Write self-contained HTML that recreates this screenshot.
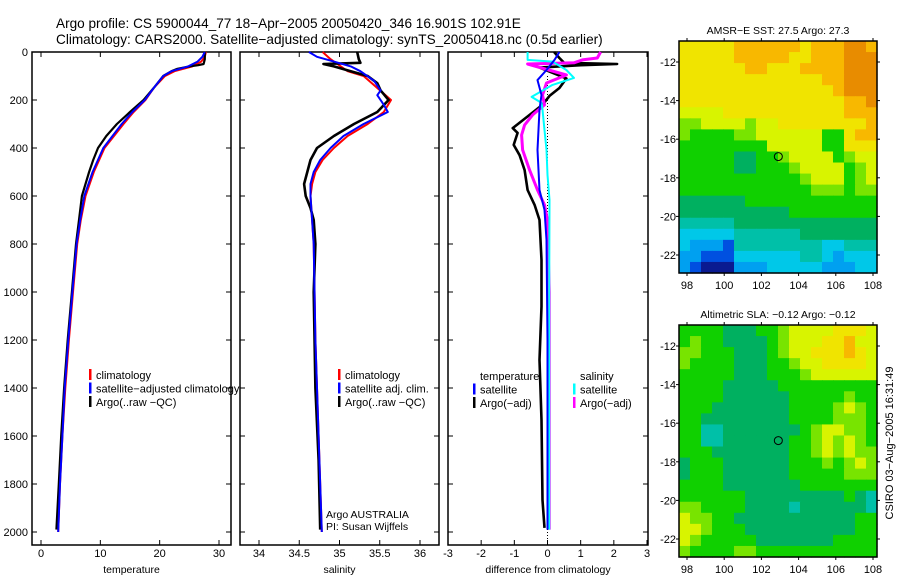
<!DOCTYPE html>
<html><head><meta charset="utf-8"><style>
body{margin:0;background:#fff;}
svg{display:block;font-family:"Liberation Sans",sans-serif;}
</style></head><body>
<svg id="chart" width="900" height="580" viewBox="0 0 900 580" xmlns="http://www.w3.org/2000/svg">
<rect width="900" height="580" fill="#fff"/>
<text x="56" y="28" font-size="13.6">Argo profile: CS 5900044_77 18−Apr−2005 20050420_346 16.901S 102.91E</text>
<text x="56" y="44" font-size="13.6">Climatology: CARS2000. Satellite−adjusted climatology: synTS_20050418.nc (0.5d earlier)</text>
<g id="g"></g>
</svg>
<script>
// ---------- data ----------
const tempDepthClim = [0,20,40,60,80,100,150,200,250,300,400,500,600,700,800,1000,1200,1400,1600,1800,2000];
const tempClim = [27.8,27.6,27.0,25.5,22.5,20.9,19.0,17.6,15.6,13.9,10.7,8.9,7.5,6.7,6.1,5.4,4.7,4.1,3.6,3.2,2.9];
const tempSat = [27.6,27.2,26.4,24.8,22.0,20.6,19.0,17.5,15.4,13.6,10.5,8.7,7.3,6.6,6.0,5.3,4.6,4.0,3.6,3.2,2.9];
const argoDepth = [0,10,20,30,40,50,55,60,70,80,100,150,200,250,300,350,400,450,500,600,700,800,1000,1200,1400,1600,1800,1990];
const tempArgo = [27.6,27.6,27.6,27.6,27.5,27.4,26.5,25,23,22,20.6,19.0,17.3,15.0,12.8,11.0,9.6,8.8,8.1,6.9,6.4,5.9,5.2,4.5,3.9,3.4,3.0,2.6];

const salDepthClim = [0,30,80,100,150,200,250,300,350,400,450,500,550,600,700,800,1200,1600,2000];
const salClim = [34.79,34.89,35.1,35.3,35.47,35.64,35.55,35.35,35.1,34.93,34.79,34.7,34.66,34.64,34.66,34.68,34.70,34.74,34.78];
const salSatDepth = [0,20,40,60,80,120,160,180,220,250,300,350,400,450,500,550,600,700,800,1200,1600,2000];
const salSat = [34.62,34.72,34.93,35.14,35.26,35.43,35.51,35.47,35.55,35.6,35.3,35.05,34.89,34.76,34.68,34.64,34.64,34.66,34.68,34.70,34.74,34.78];
const salArgoDepth = [0,30,45,50,60,80,100,130,160,200,250,300,350,400,450,500,550,600,650,700,800,1000,1400,1700,1990];
const salArgo = [35.22,35.24,35.26,34.8,34.93,35.14,35.35,35.47,35.51,35.61,35.47,35.18,34.93,34.72,34.64,34.6,34.56,34.58,34.64,34.68,34.7,34.68,34.7,34.74,34.76];

const dTempArgoDepth = [0,25,45,50,55,65,110,150,183,220,262,317,337,387,430,492,575,637,700,867,1060,1283,1533,1867,1983];
const dTempArgo = [0.2,0.36,0.5,2.1,1.0,-0.24,0.57,0.36,0.06,-0.15,-0.54,-1.05,-0.9,-1.02,-0.84,-0.69,-0.6,-0.39,-0.24,-0.18,-0.18,-0.24,-0.18,-0.15,-0.09];
const dSalArgoDepth = [0,25,33,45,50,96,129,179,220,262,304,346,408,492,575,637,700,1000,1400,1800,1990];
const dSalArgo = [1.6,1.5,1.05,0.8,-0.6,0.57,-0.03,-0.15,-0.09,-0.45,-0.69,-0.78,-0.75,-0.54,-0.3,-0.09,0.0,0.05,0.05,0.05,0.05];
const dSalSatDepth = [0,33,40,75,108,137,187,212,240,325,408,512,616,1000,1500,1990];
const dSalSat = [-0.6,-0.6,0.15,0.57,0.8,0.15,-0.48,-0.18,-0.15,-0.09,-0.03,0.0,0.06,0.05,0.05,0.05];
const dTempSatDepth = [0,33,75,117,179,240,408,575,658,783,1200,1990];
const dTempSat = [0.36,0.21,-0.03,-0.3,-0.18,-0.24,-0.3,-0.24,-0.09,-0.03,0.0,0.0];

const depthTicks = [0,200,400,600,800,1000,1200,1400,1600,1800,2000];
const tempTicks = [0,10,20,30];
const salTicks = [34,34.5,35,35.5,36];
const salTickLabels = ["34","34.5","35","35.5","36"];
const diffTicks = [-3,-2,-1,0,1,2,3];
const lonTicks = [98,100,102,104,106,108];
const latTicks = [-12,-14,-16,-18,-20,-22];

const sstGrid = [
"99999aaaaaa9aaabba","99999aaaaa99aaabbb","999999aa999aaaabbb","9999999999999aabbb",
"99999999999999abbb","999999999999999aab","888899999999999aaa","77888878899999999a",
"7666677888888669aa","666666668888866999","666665566788886788","666665566678888678",
"666666666667888678","666666666666777677","555555666666666666","555555555566666666",
"444445555555555555","333334444445555555","322214444444433444","221113333334432333",
"210002223333322233"];
const slaGrid = [
"666655566788889998","676655556788899a88","776665556788999a98","766665556678899998",
"666665556667888888","666655555666666666","666655555566666766","666555555566667876",
"665555555566667776","664455555556788776","664455555566787876","666555555566787877",
"566655555566676787","566655555566666777","666655555556666666","666666555555555654",
"776666555545555554","877665555555555566","887666555555555566","876666655555556666",
"766667766666666666"];
const palette = ["#0a1a90","#0050e0","#00a0f0","#00c8e8","#00c0a8","#00b060","#10d000","#78e400","#d8f400","#f0e400","#f8b800","#e88c00"];
const argoLon = 102.91, argoLat = -16.9;

// ---------- helpers ----------
const NS="http://www.w3.org/2000/svg";
const G=document.getElementById('g');
function mk(tag,attrs,parent){const e=document.createElementNS(NS,tag);for(const k in attrs)e.setAttribute(k,attrs[k]);(parent||G).appendChild(e);return e;}
const yTop=52, yPerM=0.24, yBot=545;
const depthY = d => yTop + d*yPerM;
function linX(d0,d1,p0,p1){return v=>p0+(v-d0)*(p1-p0)/(d1-d0);}
const panels=[
 {x0:32,x1:231,sx:linX(0,30,41,219),ticks:tempTicks,labels:tempTicks.map(String),title:"temperature",name:"temperature-panel"},
 {x0:240,x1:439,sx:linX(34,36,259,420),ticks:salTicks,labels:salTickLabels,title:"salinity",name:"salinity-panel"},
 {x0:448,x1:648,sx:linX(-3,3,448,647),ticks:diffTicks,labels:diffTicks.map(String),title:"difference from climatology",name:"difference-panel"}];

panels.forEach((p,i)=>{
  const g=mk('g',{});
  
  
  const r=mk('rect',{x:p.x0,y:yTop,width:p.x1-p.x0,height:yBot-yTop,fill:'none',stroke:'#000','stroke-width':1.5},g);
  
  
  depthTicks.forEach(d=>{
    const y=depthY(d);
    mk('line',{x1:p.x0,x2:p.x0+5,y1:y,y2:y,stroke:'#000'},g);
    mk('line',{x1:p.x1-5,x2:p.x1,y1:y,y2:y,stroke:'#000'},g);
    if(i===0){const t=mk('text',{x:28,y:y+4,'font-size':11,'text-anchor':'end'},g);t.textContent=d;
      
      }
  });
  p.ticks.forEach((v,j)=>{
    const x=p.sx(v);
    mk('line',{x1:x,x2:x,y1:yBot,y2:yBot-5,stroke:'#000'},g);
    mk('line',{x1:x,x2:x,y1:yTop,y2:yTop+5,stroke:'#000'},g);
    const t=mk('text',{x:x,y:557,'font-size':11,'text-anchor':'middle'},g);t.textContent=p.labels[j];
    
    
  });
  const t=mk('text',{x:(p.x0+p.x1)/2,y:573,'font-size':10.5,'text-anchor':'middle'},g);t.textContent=p.title;
  
  
});

function line(depths,vals,sx,color,w,name,dash){
  const pts=depths.map((d,i)=>sx(vals[i]).toFixed(1)+','+depthY(d).toFixed(1)).join(' ');
  const e=mk('polyline',{points:pts,fill:'none',stroke:color,'stroke-width':w,'stroke-linejoin':'round'});
  if(dash)e.setAttribute('stroke-dasharray',dash);
  
  
}
const P=panels;
line(tempDepthClim,tempClim,P[0].sx,'#f00',2,'temp-climatology-line');
line(argoDepth,tempArgo,P[0].sx,'#000',2.2,'temp-argo-line');
line(tempDepthClim,tempSat,P[0].sx,'#00f',2,'temp-satellite-line');
line(salDepthClim,salClim,P[1].sx,'#f00',2,'sal-climatology-line');
line(salArgoDepth,salArgo,P[1].sx,'#000',2.6,'sal-argo-line');
line(salSatDepth,salSat,P[1].sx,'#00f',2,'sal-satellite-line');
// zero reference
const z=mk('line',{x1:P[2].sx(0),x2:P[2].sx(0),y1:depthY(100),y2:depthY(2040),stroke:'#000','stroke-width':1,'stroke-dasharray':'1,2'});


line(dTempArgoDepth,dTempArgo,P[2].sx,'#000',2.6,'diff-temp-argo-line');
line(dSalArgoDepth,dSalArgo,P[2].sx,'#f0f',3,'diff-sal-argo-line');
line(dSalSatDepth,dSalSat,P[2].sx,'#0ff',2,'diff-sal-satellite-line');
line(dTempSatDepth,dTempSat,P[2].sx,'#00f',2,'diff-temp-satellite-line');

function legend(x,y,items,name){
  const g=mk('g',{});
  
  
  items.forEach((it,i)=>{
    const yy=y+i*13.5;
    if(it[1])mk('rect',{x:x,y:yy-6,width:2.5,height:11,fill:it[1]},g);
    const t=mk('text',{x:x+7,y:yy+4,'font-size':11},g);t.textContent=it[0];
  });
}
legend(89,375,[["climatology","#f00"],["satellite−adjusted climatology","#00f"],["Argo(..raw −QC)","#000"]],'temperature-legend');
legend(338,375,[["climatology","#f00"],["satellite adj. clim.","#00f"],["Argo(..raw −QC)","#000"]],'salinity-legend');
legend(473,376,[["temperature",null],["satellite","#00f"],["Argo(−adj)","#000"]],'diff-temperature-legend');
legend(573,376,[["salinity",null],["satellite","#0ff"],["Argo(−adj)","#f0f"]],'diff-salinity-legend');
[["Argo AUSTRALIA",518],["PI: Susan Wijffels",530]].forEach(a=>{const t=mk('text',{x:326,y:a[1],'font-size':10.5});t.textContent=a[0];
  
  });

// ---------- maps ----------
function map(grid,top,title,name){
  const mx0=679,mx1=877,my0=top,my1=top+232;
  const lonX=linX(98,108,687,873), latY=linX(-12,-22,top+21,top+214);
  const g=mk('g',{});
  
  
  const rows=grid.length, cols=grid[0].length, cw=(mx1-mx0)/cols, ch=(my1-my0)/rows;
  grid.forEach((row,r)=>{for(let c=0;c<cols;c++){
    const v=parseInt(row[c],16);
    mk('rect',{x:mx0+c*cw,y:my0+r*ch,width:cw+0.6,height:ch+0.6,fill:palette[v]},g);
  }});
  mk('rect',{x:mx0,y:my0,width:mx1-mx0,height:my1-my0,fill:'none',stroke:'#000','stroke-width':1.5},g);
  lonTicks.forEach(v=>{const x=lonX(v);
    mk('line',{x1:x,x2:x,y1:my0,y2:my0-3,stroke:'#000'},g);
    mk('line',{x1:x,x2:x,y1:my1,y2:my1+3,stroke:'#000'},g);
    const t=mk('text',{x:x,y:my1+16,'font-size':11,'text-anchor':'middle'},g);t.textContent=v;});
  latTicks.forEach(v=>{const y=latY(v);
    mk('line',{x1:mx0,x2:mx0-3,y1:y,y2:y,stroke:'#000'},g);
    mk('line',{x1:mx1,x2:mx1+3,y1:y,y2:y,stroke:'#000'},g);
    const t=mk('text',{x:mx0-3,y:y+4,'font-size':11,'text-anchor':'end'},g);t.textContent=v;});
  const c=mk('circle',{cx:lonX(argoLon),cy:latY(argoLat),r:4,fill:'none',stroke:'#000','stroke-width':1},g);
  
  
  const t=mk('text',{x:(mx0+mx1)/2,y:top-7,'font-size':10.5,'text-anchor':'middle'},g);t.textContent=title;
  
  
}
map(sstGrid,41,"AMSR−E SST: 27.5 Argo: 27.3",'sst-map');
map(slaGrid,325,"Altimetric SLA: −0.12 Argo: −0.12",'sla-map');
const ts=mk('text',{x:0,y:0,'font-size':11,'text-anchor':'middle',transform:'translate(893,443) rotate(-90)'});
ts.textContent="CSIRO 03−Aug−2005 16:31:49";


</script>
</body></html>
